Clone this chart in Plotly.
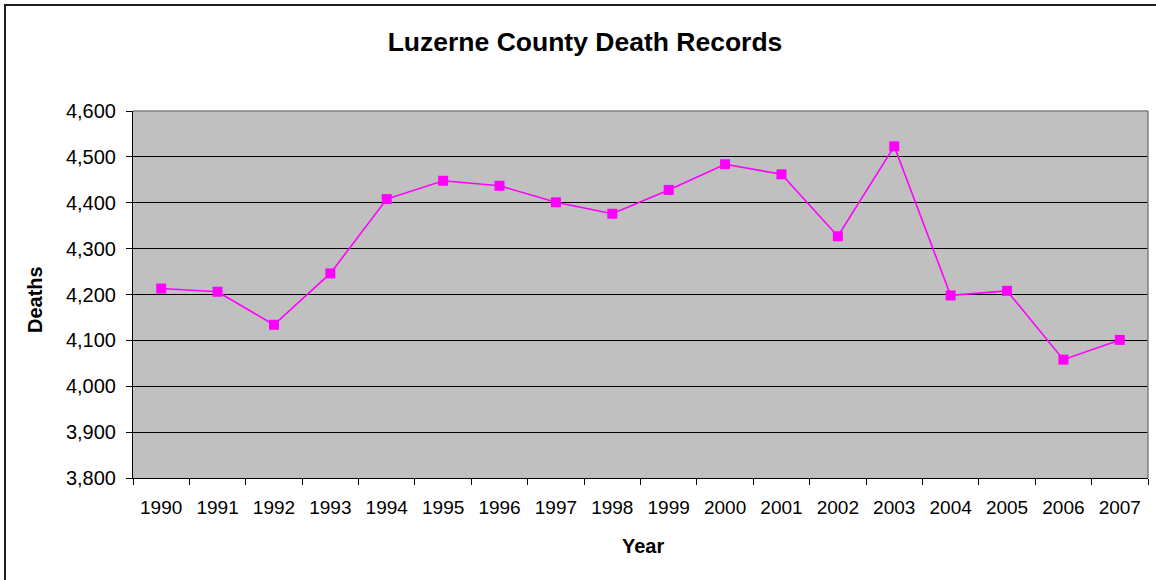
import plotly.graph_objects as go

years = [str(y) for y in range(1990, 2008)]
deaths = [4213, 4206, 4134, 4246, 4408, 4448, 4437, 4401, 4376, 4428,
          4484, 4462, 4327, 4523, 4198, 4208, 4058, 4101]
y_ticks = [3800, 3900, 4000, 4100, 4200, 4300, 4400, 4500, 4600]

W, H = 1156, 580
L, R, T, B = 133, 1148, 111, 478  # plot area in pixels

def px(x):
    return (x - L) / (R - L)

def py(y):
    return (B - y) / (B - T)

FONT = "Liberation Sans, Arial, sans-serif"

fig = go.Figure()
fig.add_trace(go.Scatter(
    x=years, y=deaths, mode="lines+markers",
    line=dict(color="#FF00FF", width=1.6),
    marker=dict(symbol="square", size=10, color="#FF00FF"),
    hoverinfo="x+y", showlegend=False,
))

fig.update_layout(
    width=W, height=H,
    margin=dict(l=L, r=W - R, t=T, b=H - B, pad=0),
    paper_bgcolor="white",
    plot_bgcolor="#C0C0C0",
    font=dict(family=FONT, size=19, color="black"),
    title=dict(
        text="<b>Luzerne County Death Records</b>",
        font=dict(family=FONT, size=26.5, color="black"),
        x=585 / W, xanchor="center", xref="container",
        y=1 - 42 / H, yanchor="middle", yref="container",
    ),
    xaxis=dict(
        type="category", range=[-0.5, len(years) - 0.5],
        showline=True, linecolor="black", linewidth=1,
        ticks="outside", tickson="boundaries", ticklen=6, tickcolor="black",
        showgrid=False, zeroline=False,
        tickfont=dict(family=FONT, size=19, color="black"),
        ticklabelstandoff=12,
    ),
    yaxis=dict(
        range=[3800, 4600], tickvals=y_ticks, tickformat=",d",
        showline=True, linecolor="black", linewidth=1,
        ticks="outside", ticklen=6, tickcolor="black",
        showgrid=True, gridcolor="black", gridwidth=1, zeroline=False,
        tickfont=dict(family=FONT, size=20, color="black"),
        ticklabelstandoff=6,
    ),
    annotations=[
        dict(text="<b>Year</b>", xref="paper", yref="paper",
             x=px(643), y=py(546), xanchor="center", yanchor="middle",
             showarrow=False, font=dict(family=FONT, size=20, color="black")),
        dict(text="<b>Deaths</b>", xref="paper", yref="paper",
             x=px(35), y=py(300), xanchor="center", yanchor="middle",
             textangle=-90, showarrow=False,
             font=dict(family=FONT, size=20, color="black")),
    ],
    shapes=[
        # gray top and right border of plot area
        dict(type="line", xref="paper", yref="paper", x0=0, x1=1, y0=1, y1=1,
             line=dict(color="#808080", width=1.5), layer="above"),
        dict(type="line", xref="paper", yref="paper", x0=1, x1=1, y0=0, y1=1,
             line=dict(color="#808080", width=1.5), layer="above"),
        # outer chart border (top and left visible)
        dict(type="rect", xref="paper", yref="paper",
             x0=px(5), x1=px(1162), y0=py(5), y1=py(590),
             line=dict(color="#202020", width=2), layer="above"),
    ],
)

fig.write_html(
    "out.html",
    config={"displayModeBar": False},
    post_script="document.body.style.margin='0';document.body.style.overflow='hidden';",
)
